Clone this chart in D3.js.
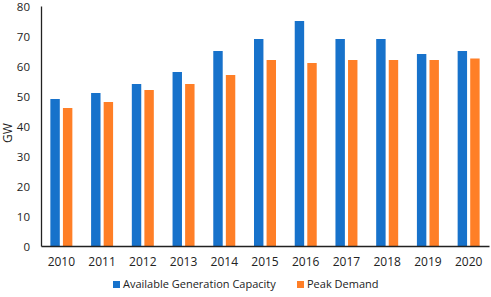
<!DOCTYPE html>
<html>
<head>
<meta charset="utf-8">
<script src="https://cdn.jsdelivr.net/npm/d3@7"></script>
<style>
  body { margin: 0; background: #fff; }
  text { font-family: "Open Sans", sans-serif; fill: #222; }
</style>
</head>
<body>
<div id="chart"></div>
<script>
const years = ["2010", "2011", "2012", "2013", "2014", "2015", "2016", "2017", "2018", "2019", "2020"];
const capacity = [49, 51, 54, 58, 65, 69, 75, 69, 69, 64, 65];
const peakDemand = [46, 48, 52, 54, 57, 62, 61, 62, 62, 62, 62.5];
const yTicks = [0, 10, 20, 30, 40, 50, 60, 70, 80];
const seriesNames = ["Available Generation Capacity", "Peak Demand"];
const colors = ["#1772CB", "#FF7F27"];

const width = 491, height = 297;
const margin = { top: 6, right: 2, bottom: 51, left: 41 };

const svg = d3.select("#chart").append("svg")
    .attr("width", width)
    .attr("height", height);

const x = d3.scaleBand()
    .domain(years)
    .range([margin.left, width - margin.right]);

const x1 = d3.scaleBand()
    .domain(seriesNames)
    .range([x.step() * 0.23, x.step() * 0.77])
    .paddingInner(0.25);

const y = d3.scaleLinear()
    .domain([0, 80])
    .range([height - margin.bottom, margin.top]);

const rows = years.map((yr, i) => ({ year: yr, values: [capacity[i], peakDemand[i]] }));

// bars
const groups = svg.append("g").selectAll("g")
    .data(rows)
    .join("g")
    .attr("transform", d => `translate(${x(d.year)},0)`);

groups.selectAll("rect")
    .data(d => d.values.map((v, i) => ({ name: seriesNames[i], value: v, i })))
    .join("rect")
    .attr("x", d => x1(d.name))
    .attr("y", d => y(d.value))
    .attr("width", x1.bandwidth())
    .attr("height", d => y(0) - y(d.value))
    .attr("fill", d => colors[d.i]);

// y axis
const yAxis = svg.append("g")
    .attr("transform", `translate(${margin.left},0)`)
    .call(d3.axisLeft(y).tickValues(yTicks).tickSize(0).tickPadding(11));
yAxis.select(".domain").attr("stroke", "#222").attr("stroke-width", 1.3);
yAxis.selectAll("text").attr("font-size", 11.5).attr("dy", "0.4em").style("font-family", "Open Sans, sans-serif");

// x axis
const xAxis = svg.append("g")
    .attr("transform", `translate(0,${y(0)})`)
    .call(d3.axisBottom(x).tickSize(0).tickPadding(11));
xAxis.select(".domain").attr("stroke", "#222").attr("stroke-width", 1.3);
xAxis.selectAll("text").attr("font-size", 12).style("font-family", "Open Sans, sans-serif");

// y label
svg.append("text")
    .attr("transform", `translate(12,${(y(0) + y(80)) / 2 + 7}) rotate(-90)`)
    .attr("text-anchor", "middle")
    .attr("font-size", 12)
    .text("GW");

// legend
const legendItems = [
    { name: seriesNames[0], color: colors[0], x: 113 },
    { name: seriesNames[1], color: colors[1], x: 297 }
];
const legend = svg.append("g").selectAll("g")
    .data(legendItems)
    .join("g")
    .attr("transform", d => `translate(${d.x},288)`);
legend.append("rect")
    .attr("x", 0).attr("y", -7)
    .attr("width", 7).attr("height", 7)
    .attr("fill", d => d.color);
legend.append("text")
    .attr("x", 10).attr("y", 0)
    .attr("font-size", 11)
    .text(d => d.name);
</script>
</body>
</html>
